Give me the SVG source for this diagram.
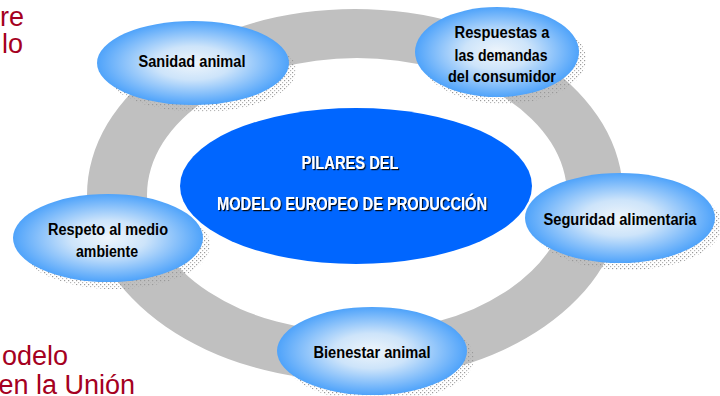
<svg xmlns="http://www.w3.org/2000/svg" width="720" height="396" viewBox="0 0 720 396">
  <style>
    .bg-text { font-family: "Liberation Sans", Arial, sans-serif; font-size: 27px; fill: #A50021; }
    .node-text { font-family: "Liberation Sans", Arial, sans-serif; font-weight: bold; font-size: 16px; fill: #000; text-anchor: middle; }
    .center-text { font-family: "Liberation Sans", Arial, sans-serif; font-weight: bold; font-size: 18px; fill: #fff; text-anchor: middle; filter: url(#txtShadow); }
    .node { fill: url(#nodeGrad); }
    .shadow { fill: url(#dots); }
  </style>
  <defs>
    <radialGradient id="nodeGrad" cx="50%" cy="50%" r="50%">
      <stop offset="0" stop-color="#EEF5FB"/>
      <stop offset="0.4" stop-color="#CDE4FA"/>
      <stop offset="1" stop-color="#4FA3FA"/>
    </radialGradient>
    <pattern id="dots" width="4" height="4" patternUnits="userSpaceOnUse">
      <rect x="0" y="0" width="1.2" height="1.2" fill="#999"/>
      <rect x="2" y="2" width="1.2" height="1.2" fill="#B5B5B5"/>
    </pattern>
    <filter id="txtShadow" x="-5%" y="-30%" width="110%" height="160%">
      <feDropShadow dx="1.2" dy="1.2" stdDeviation="0.2" flood-color="#000" flood-opacity="0.9"/>
    </filter>
  </defs>

  <rect width="720" height="396" fill="#fff"/>

  <!-- background slide text fragments -->
  <g id="background-text">
    <text class="bg-text" x="24" y="26" text-anchor="end">re</text>
    <text class="bg-text" x="23" y="53" text-anchor="end">lo</text>
    <text class="bg-text" x="68" y="365" text-anchor="end">odelo</text>
    <text class="bg-text" x="135" y="394" text-anchor="end">en la Unión</text>
  </g>

  <!-- ring connector -->
  <g id="connectors">
    <path fill="#C0C0C0" fill-rule="evenodd"
      d="M87,195 A268,186 0 1 0 623,195 A268,186 0 1 0 87,195 Z
         M147,195 A210,137 0 1 0 567,195 A210,137 0 1 0 147,195 Z"/>
  </g>

  <g id="center">
    <ellipse cx="356" cy="186" rx="176" ry="78" fill="#0066FF"/>
    <text class="center-text" x="350" y="169" textLength="97" lengthAdjust="spacingAndGlyphs">PILARES DEL</text>
    <text class="center-text" x="352" y="210" textLength="270" lengthAdjust="spacingAndGlyphs">MODELO EUROPEO DE PRODUCCIÓN</text>
  </g>

  <g id="sanidad">
    <ellipse class="shadow" cx="200" cy="70" rx="96" ry="42"/>
    <ellipse class="node" cx="193" cy="63" rx="96" ry="42"/>
    <text class="node-text" x="192" y="67" textLength="107" lengthAdjust="spacingAndGlyphs">Sanidad animal</text>
  </g>

  <g id="respuestas">
    <ellipse class="shadow" cx="504" cy="59" rx="82" ry="45"/>
    <ellipse class="node" cx="497" cy="52" rx="82" ry="45"/>
    <text class="node-text" x="502" y="38" textLength="95" lengthAdjust="spacingAndGlyphs">Respuestas a</text>
    <text class="node-text" x="501" y="61" textLength="93" lengthAdjust="spacingAndGlyphs">las demandas</text>
    <text class="node-text" x="502" y="82" textLength="108" lengthAdjust="spacingAndGlyphs">del consumidor</text>
  </g>

  <g id="seguridad">
    <ellipse class="shadow" cx="627" cy="225" rx="95" ry="45"/>
    <ellipse class="node" cx="620" cy="218" rx="95" ry="45"/>
    <text class="node-text" x="620" y="225" textLength="153" lengthAdjust="spacingAndGlyphs">Seguridad alimentaria</text>
  </g>

  <g id="respeto">
    <ellipse class="shadow" cx="115" cy="245" rx="95" ry="44"/>
    <ellipse class="node" cx="108" cy="238" rx="95" ry="44"/>
    <text class="node-text" x="108" y="235" textLength="120" lengthAdjust="spacingAndGlyphs">Respeto al medio</text>
    <text class="node-text" x="107" y="257" textLength="62" lengthAdjust="spacingAndGlyphs">ambiente</text>
  </g>

  <g id="bienestar">
    <ellipse class="shadow" cx="379" cy="358" rx="95" ry="44"/>
    <ellipse class="node" cx="372" cy="351" rx="95" ry="44"/>
    <text class="node-text" x="372" y="358" textLength="117" lengthAdjust="spacingAndGlyphs">Bienestar animal</text>
  </g>
</svg>
